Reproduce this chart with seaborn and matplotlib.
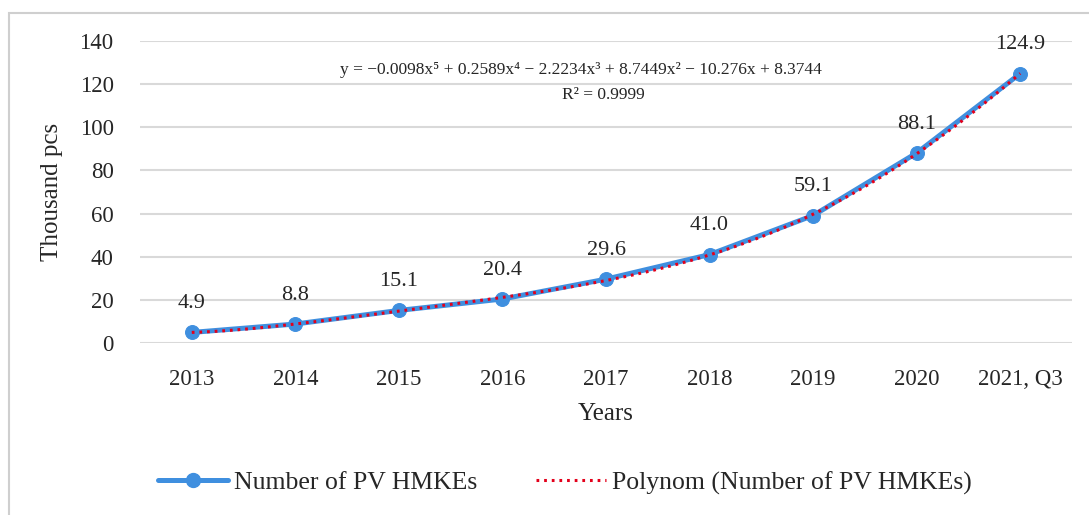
import numpy as np
import pandas as pd
import seaborn as sns
import matplotlib
matplotlib.use("Agg")
import matplotlib.pyplot as plt
from matplotlib.lines import Line2D
from matplotlib.patches import Rectangle

categories = ["2013", "2014", "2015", "2016", "2017", "2018", "2019", "2020", "2021, Q3"]
values = [4.9, 8.8, 15.1, 20.4, 29.6, 41.0, 59.1, 88.1, 124.9]
y_ticks = [0, 20, 40, 60, 80, 100, 120, 140]
equation = "y = \u22120.0098x\u2075 + 0.2589x\u2074 \u2212 2.2234x\u00b3 + 8.7449x\u00b2 \u2212 10.276x + 8.3744"
r2_text = "R\u00b2 = 0.9999"
series_name = "Number of PV HMKEs"
trend_name = "Polynom (Number of PV HMKEs)"

sns.set_theme(style="white")
plt.rcParams['font.family'] = ['Liberation Serif', 'DejaVu Serif']

BLUE = "#3f8fdf"
RED = "#e3001b"
GRID = "#d9d9d9"
TXT = "#262626"

df = pd.DataFrame({"pos": np.arange(len(categories)), "val": values})

fig = plt.figure(figsize=(10.89, 5.15), dpi=100)
ax = fig.add_axes([140/1089, 1-343/515, (1072-140)/1089, (343-41)/515])

sns.lineplot(data=df, x="pos", y="val", ax=ax, color=BLUE, linewidth=3.6,
             marker="o", markersize=10, markeredgecolor=BLUE, zorder=3)
sns.regplot(data=df, x="pos", y="val", ax=ax, order=5, ci=None, scatter=False,
            line_kws=dict(color=RED, linewidth=2.2, linestyle=(0, (0.9, 1.6)), zorder=4))

ax.set_xlim(-0.5, len(categories) - 0.5)
ax.set_ylim(0, 140)
ax.set_yticks(y_ticks)
ax.set_yticklabels([str(t) for t in y_ticks], fontsize=16.5, color=TXT)
ax.set_xticks(df["pos"])
ax.set_xticklabels(categories, fontsize=16.5, color=TXT)
ax.tick_params(axis="both", length=0)
ax.tick_params(axis="y", pad=19)
ax.tick_params(axis="x", pad=19)
ax.grid(axis="y", color=GRID, linewidth=1.5)
ax.grid(axis="x", visible=False)
for s in ax.spines.values():
    s.set_visible(False)
ax.set_axisbelow(True)

ax.set_xlabel("Years", fontsize=18, color=TXT, labelpad=9)
ax.set_ylabel("Thousand pcs", fontsize=18, color=TXT, labelpad=12)

for p, v in zip(df["pos"], values):
    ax.annotate(f"{v:.1f}", (p, v), xytext=(0, 14), textcoords="offset points",
                ha="center", va="bottom", fontsize=16, color=TXT)

fig.text(581/1089, 1-70/515, equation, ha="center", va="center", fontsize=12.5, color=TXT)
fig.text(603/1089, 1-95/515, r2_text, ha="center", va="center", fontsize=12.5, color=TXT)

h0 = Line2D([0, 0.5, 1], [0, 0, 0], color=BLUE, linewidth=3.6, marker="o", markersize=10, markevery=[1])
h1 = Line2D([], [], color=RED, linewidth=2.2, linestyle=(0, (0.9, 1.6)))
fig.legend([h0, h1], [series_name, trend_name], loc="center", ncol=2,
           bbox_to_anchor=(565/1089, 1-483/515), frameon=False, fontsize=18.5,
           handlelength=2.7, handletextpad=0.25, columnspacing=2.3, labelcolor=TXT)

fig.add_artist(Rectangle((9/1089, -0.1), 1.2, 1.1 - 13/515, transform=fig.transFigure,
                         fill=False, edgecolor="#cfcfcf", linewidth=1.5))

fig.savefig("out.png", dpi=100)
